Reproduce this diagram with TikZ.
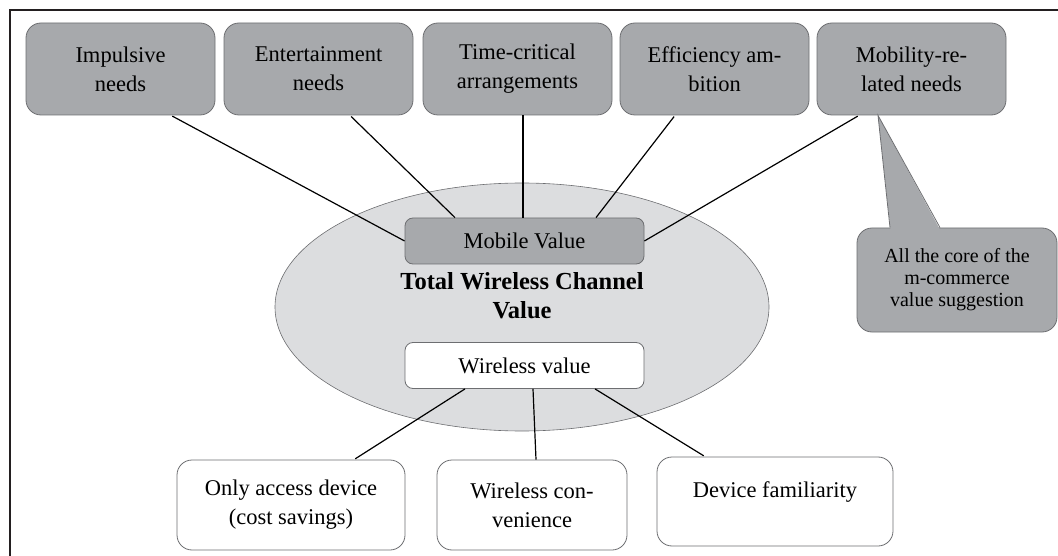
\documentclass[tikz,border=0pt]{standalone}
\usepackage{fontspec}
\setmainfont{Liberation Serif}
\usetikzlibrary{shapes.geometric,calc}
\definecolor{boxgray}{HTML}{A7A9AC}
\definecolor{ellfill}{HTML}{DCDDDF}
\definecolor{edgegray}{HTML}{6D6E71}
\definecolor{framecol}{HTML}{231F20}
\begin{document}
\begin{tikzpicture}[x=1pt,y=-1pt,
  txt/.style={font=\fontsize{22.5}{29}\selectfont, align=center, inner sep=0pt},
  needbox/.style={txt, draw=edgegray, line width=0.8pt, fill=boxgray, rounded corners=15pt,
    minimum width=189pt, minimum height=92pt},
  valbox/.style={txt, draw=edgegray, line width=0.8pt, rounded corners=8pt,
    minimum width=239pt, minimum height=46pt},
  factbox/.style={txt, draw=edgegray, line width=0.8pt, fill=white, rounded corners=15pt,
    minimum height=90pt},
  conn/.style={draw=black, line width=1.2pt},
  titletxt/.style={font=\fontsize{24.5}{29}\selectfont\bfseries, align=center, inner sep=0pt},
  callbox/.style={font=\fontsize{20}{22}\selectfont, align=center, inner sep=0pt,
    draw=edgegray, line width=0.8pt, fill=boxgray, rounded corners=15pt,
    minimum width=200pt, minimum height=104pt}]
\useasboundingbox (0,0) rectangle (1058,556);
% frame
\draw[framecol, line width=2pt] (9.5,557) -- (9.5,10) -- (1059,10);
% ellipse
\node[ellipse, draw=edgegray, line width=0.6pt, fill=ellfill,
  minimum width=494pt, minimum height=248pt, inner sep=0pt] (tw) at (522,307) {};
\node[titletxt] (title) at (522,296) {Total Wireless Channel\\Value};
% top boxes
\node[needbox] (imp) at (120.5,69) {Impulsive\\needs};
\node[needbox] (ent) at (318.5,69) {Entertainment\\needs};
\node[needbox] (tc)  at (517.5,69) {Time-critical\\arrangements};
\node[needbox] (eff) at (714.5,69) {Efficiency am-\\bition};
\node[needbox] (mob) at (911.5,69) {Mobility-re-\\lated needs};
% value boxes
\node[valbox, fill=boxgray] (mv) at (524.5,241) {Mobile Value};
\node[valbox, fill=white] (wv) at (524.5,365.5) {Wireless value};
% bottom boxes
\node[factbox, minimum width=228pt] (oa) at (291,505) {Only access device\\(cost savings)};
\node[factbox, minimum width=190pt] (wc) at (532,505) {Wireless con-\\venience};
\node[factbox, minimum width=236pt, minimum height=89pt, text height=15pt, text depth=24pt] (df) at (775,501.5) {Device familiarity};
% callout
\node[callbox] (co) at (957,280) {All the core of the\\m-commerce\\value suggestion};
\coordinate (ptr) at ([xshift=-33.5pt]mob.south);
\fill[boxgray] ([xshift=-66.6pt,yshift=-1.2pt]co.north) -- (ptr) -- ([xshift=-17.4pt,yshift=-1.2pt]co.north) -- cycle;
\draw[edgegray, line width=0.8pt] ([xshift=-67pt]co.north) -- (ptr) -- ([xshift=-17pt]co.north);
% connectors
\draw[conn, shorten <=1.5pt] ([xshift=50.5pt]imp.south) -- (mv.west);
\draw[conn, shorten <=1.5pt] ([xshift=31.5pt]ent.south) -- ([xshift=-69.5pt]mv.north);
\draw[conn] ([xshift=5.5pt]tc.south) -- ([xshift=-1.5pt]mv.north);
\draw[conn, shorten <=1.5pt] ([xshift=-39.5pt]eff.south) -- ([xshift=71.5pt]mv.north);
\draw[conn, shorten <=1.5pt] ([xshift=-52.5pt]mob.south) -- (mv.east);
\draw[conn, shorten >=1.5pt] ([xshift=-59.5pt]wv.south) -- ([xshift=63pt]oa.north);
\draw[conn] ([xshift=8.5pt]wv.south) -- ([xshift=4pt]wc.north);
\draw[conn, shorten >=1.5pt] ([xshift=70.5pt]wv.south) -- ([xshift=-70pt]df.north);
\end{tikzpicture}
\end{document}
